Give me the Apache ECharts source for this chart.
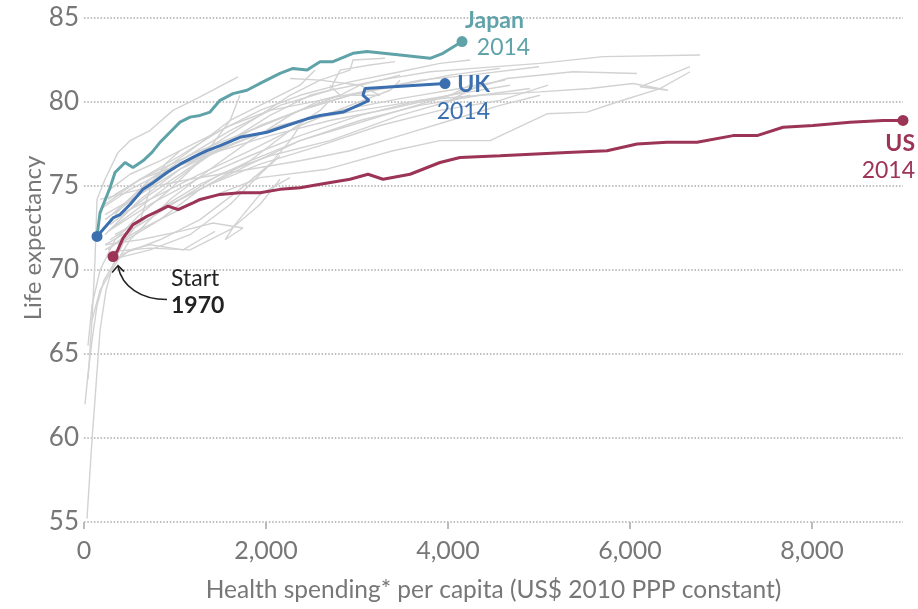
<!DOCTYPE html>
<html>
<head>
<meta charset="utf-8">
<script src="https://cdn.jsdelivr.net/npm/echarts@6/dist/echarts.min.js"></script>
<style>
  html, body { margin: 0; padding: 0; background: #fff; }
  #chart { width: 918px; height: 609px; }
</style>
</head>
<body>
<div id="chart"></div>
<script>
// [health spending per capita, life expectancy], 1970 -> 2014
const japan = [[143,72.0],[176,73.4],[286,74.9],[341,75.8],[451,76.4],[538,76.1],[648,76.5],[747,77.0],[835,77.6],[945,78.2],[1055,78.8],[1165,79.1],[1275,79.2],[1385,79.4],[1495,80.1],[1637,80.5],[1791,80.7],[1967,81.2],[2154,81.7],[2297,82.0],[2451,81.9],[2594,82.4],[2736,82.4],[2956,82.9],[3110,83.0],[3473,82.8],[3803,82.6],[3945,82.9],[4154,83.6]];
const uk = [[143,72.0],[176,72.2],[319,73.1],[396,73.3],[506,73.9],[615,74.6],[648,74.8],[758,75.2],[912,75.8],[1055,76.3],[1198,76.7],[1352,77.1],[1495,77.4],[1714,77.9],[2011,78.2],[2231,78.6],[2451,79.0],[2594,79.2],[2846,79.4],[3055,79.9],[3132,80.1],[3066,80.4],[3088,80.8],[3967,81.1]];
const us = [[319,70.8],[363,71.1],[429,71.9],[538,72.7],[692,73.2],[813,73.5],[923,73.8],[1033,73.6],[1198,74.0],[1275,74.2],[1495,74.5],[1714,74.6],[1934,74.6],[2154,74.8],[2374,74.9],[2594,75.1],[2923,75.4],[3121,75.7],[3286,75.4],[3583,75.7],[3912,76.4],[4132,76.7],[4572,76.8],[5308,77.0],[5748,77.1],[6077,77.5],[6407,77.6],[6737,77.6],[7133,78.0],[7396,78.0],[7682,78.5],[8012,78.6],[8418,78.8],[8781,78.9],[9000,78.9]];

// other OECD countries (grey)
const korea = [[44,63.5],[88,67.0],[121,70.6],[143,74.2],[231,75.4],[374,77.0],[506,77.7],[725,78.3],[978,79.5],[1275,80.3],[1692,81.5]];
const turkey = [[33,55.2],[88,59.9],[121,62.3],[176,66.4],[242,68.8],[330,70.5],[451,71.8],[615,72.9],[725,74.8],[890,76.3],[1055,77.1]];
const mexico = [[11,62.0],[44,63.8],[88,65.8],[143,67.9],[220,69.4],[341,70.5],[506,71.2],[725,71.5],[1088,71.2],[1275,71.8],[1440,72.3]];
const chile = [[44,65.5],[88,67.9],[176,70.0],[341,71.8],[615,73.3],[945,74.8],[1275,76.5],[1605,78.9],[1714,80.4]];
const estonia = [[231,71.5],[615,71.8],[1055,72.3],[1418,72.8],[1747,72.5],[1550,71.8],[1659,72.7],[1934,74.5],[2264,75.5]];
const hungary = [[308,71.1],[725,71.3],[1165,71.2],[1605,72.4],[1934,73.9],[2154,75.4]];
const poland = [[286,70.6],[725,71.2],[1165,72.1],[1605,73.9],[1934,75.7],[2154,76.8]];
const czech = [[396,70.9],[835,71.8],[1275,73.0],[1714,74.8],[2044,76.3],[2264,77.7],[2374,78.6]];
const slovenia = [[374,71.5],[835,73.0],[1275,74.8],[1824,76.5],[2264,78.3],[2594,79.5],[2703,80.1]];
const portugal = [[88,67.0],[176,68.8],[506,71.8],[945,74.2],[1385,76.0],[1824,77.7],[2264,79.2],[2594,80.1],[2813,80.4],[2703,81.0]];
const greece = [[231,72.1],[615,74.2],[1055,76.0],[1495,77.4],[1934,78.6],[2374,79.5],[2813,80.4],[3033,81.0],[2594,81.3],[2264,81.4]];
const israel = [[341,73.3],[725,75.4],[1165,77.1],[1605,78.9],[2044,80.1],[2374,81.0],[2540,81.9]];
const spain = [[286,72.4],[725,74.2],[1165,76.0],[1605,77.7],[2044,79.2],[2484,80.4],[2703,80.7],[2813,81.9],[3143,82.2],[3418,82.4]];
const italy = [[231,73.0],[615,74.5],[1055,76.3],[1495,77.7],[1934,79.2],[2264,80.4],[2594,81.3],[2923,81.9],[2956,82.5],[3308,82.6]];
const france = [[286,72.7],[725,74.5],[1275,76.5],[1824,78.3],[2374,79.5],[2923,80.4],[3473,81.0],[4022,81.6],[4572,82.0]];
const australia = [[231,73.9],[615,75.4],[1055,76.8],[1495,78.3],[1934,79.5],[2374,80.4],[2923,81.2],[3473,81.8],[3912,82.3],[4242,82.5]];
const newZealand = [[286,73.0],[725,74.2],[1275,75.7],[1824,77.1],[2374,78.6],[2923,79.8],[3363,80.7],[3473,81.3]];
const iceland = [[341,74.5],[725,75.7],[1275,77.1],[1824,78.3],[2374,79.5],[2923,80.4],[3253,80.4],[3033,81.0],[3473,81.6]];
const sweden = [[286,74.8],[506,75.7],[835,76.5],[1165,77.4],[1605,78.6],[2044,79.5],[2594,80.1],[3143,80.7],[3693,81.3],[4242,81.6],[5000,82.1]];
const switzerland = [[308,73.3],[615,74.8],[1055,76.5],[1605,78.3],[2154,79.8],[2703,80.7],[3253,81.3],[3803,81.8],[4275,82.0],[5011,82.3],[5704,82.7],[6770,82.8]];
const netherlands = [[176,73.6],[506,74.8],[945,76.0],[1495,77.1],[2044,78.0],[2703,78.9],[3363,79.6],[4022,80.4],[4649,81.4],[5374,81.8],[6077,81.7]];
const norway = [[264,74.2],[615,75.4],[1165,76.5],[1714,77.7],[2374,78.9],[3033,79.5],[3693,80.1],[4352,80.4],[5011,80.6],[5561,80.8],[6033,81.1],[6418,80.7],[6110,80.9],[6660,82.1]];
const luxembourg = [[231,71.2],[615,72.4],[1165,73.9],[1605,74.8],[1934,75.5],[2671,76.0],[3396,77.1],[3912,77.7],[4462,77.7],[5088,79.3],[5528,79.4],[5858,80.0],[6330,80.8],[6660,81.8]];
const germany = [[341,72.1],[835,73.6],[1385,75.1],[1934,76.3],[2594,77.4],[3253,78.6],[3912,79.5],[4572,80.1],[5100,81.0]];
const austria = [[286,71.8],[725,73.3],[1275,74.8],[1824,76.3],[2374,77.7],[3033,78.9],[3693,79.8],[4352,80.4],[4902,80.8]];
const belgium = [[264,72.3],[725,73.9],[1275,75.5],[1824,76.8],[2374,78.0],[3033,79.2],[3693,80.1],[4242,80.6],[4682,81.0]];
const denmark = [[176,74.2],[615,74.8],[1165,75.4],[1824,76.0],[2374,76.5],[2923,77.1],[3473,78.0],[4022,78.9],[4572,79.8],[5011,80.4]];
const finland = [[264,71.2],[725,73.3],[1275,75.1],[1824,76.5],[2374,77.7],[2923,78.6],[3473,79.5],[4022,80.4],[4242,81.0]];
const ireland = [[231,71.5],[615,72.7],[1055,74.2],[1495,75.7],[2044,76.8],[2703,77.7],[3473,79.2],[4242,80.4],[4022,80.1],[4352,81.0]];
const canada = [[231,73.3],[615,74.5],[1055,76.0],[1605,77.4],[2154,78.6],[2813,79.5],[3473,80.2],[4132,80.8],[4627,81.3]];

const greyCountries = [korea, turkey, mexico, chile, estonia, hungary, poland, czech, slovenia, portugal,
  greece, israel, spain, italy, france, australia, newZealand, iceland, sweden, switzerland,
  netherlands, norway, luxembourg, germany, austria, belgium, denmark, finland, ireland, canada];

const xTicks = [0, 2000, 4000, 6000, 8000];

const FONT = 'Lato';
const JAPAN = '#5fa3a9';
const UK = '#3b6fb0';
const US = '#9b3455';

const chart = echarts.init(document.getElementById('chart'));

function fmt(v) {
  return String(v).replace(/\B(?=(\d{3})+(?!\d))/g, ',');
}

function highlight(data, color) {
  return {
    type: 'line',
    data: data,
    showSymbol: false,
    silent: true,
    z: 5,
    lineStyle: { color: color, width: 3 },
    animation: false
  };
}

function dots(data, color, label, withStart) {
  const items = [];
  if (withStart) items.push({ value: data[0] });
  items.push({ value: data[data.length - 1], label: label });
  return {
    type: 'scatter',
    data: items,
    symbolSize: 11,
    z: 6,
    itemStyle: { color: color, opacity: 1 },
    animation: false
  };
}

const richOf = color => ({
  b: { fontFamily: FONT, fontSize: 23, fontWeight: 'bold', color: color, lineHeight: 27 },
  n: { fontFamily: FONT, fontSize: 23, color: color, lineHeight: 27 }
});

chart.setOption({
  backgroundColor: '#fff',
  animation: false,
  grid: { left: 84, right: 15, top: 18, bottom: 87 },
  xAxis: {
    type: 'value',
    min: 0,
    max: 9000,
    interval: 2000,
    name: 'Health spending* per capita (US$ 2010 PPP constant)',
    nameLocation: 'middle',
    nameGap: 56,
    nameTextStyle: { fontFamily: FONT, fontSize: 24.5, color: '#777' },
    axisLine: { show: false },
    axisTick: { show: true, customValues: xTicks, length: 7, lineStyle: { color: '#bbb', width: 2 } },
    axisLabel: { customValues: xTicks, formatter: fmt, margin: 16, fontFamily: FONT, fontSize: 25, color: '#777' },
    splitLine: { show: false }
  },
  yAxis: {
    type: 'value',
    min: 55,
    max: 85,
    interval: 5,
    axisLine: { show: false },
    axisTick: { show: false },
    axisLabel: { margin: 5, fontFamily: FONT, fontSize: 26, color: '#777' },
    splitLine: { lineStyle: { color: '#aaa', width: 1.5, type: [1.5, 1.8] } }
  },
  series: [
    ...greyCountries.map(d => ({
      type: 'line',
      data: d,
      showSymbol: false,
      silent: true,
      z: 2,
      lineStyle: { color: '#d2d2d2', width: 1.4 }
    })),
    highlight(us, US),
    highlight(uk, UK),
    highlight(japan, JAPAN),
    dots(japan, JAPAN, {
      show: true, position: [8.5, -28.5], align: 'left', verticalAlign: 'top',
      formatter: '{b|Japan}\n{n|  2014}', rich: richOf(JAPAN)
    }, false),
    dots(us, US, {
      show: true, position: [17.5, 15], align: 'right', verticalAlign: 'top',
      formatter: '{b|US}\n{n|2014}', rich: richOf(US)
    }, true),
    dots(uk, UK, {
      show: true, position: [50.5, -7], align: 'right', verticalAlign: 'top',
      formatter: '{b|UK}\n{n|2014}', rich: richOf(UK)
    }, true)
  ]
});

// y axis title and the "Start 1970" note, placed from the US start point
const p = chart.convertToPixel({ gridIndex: 0 }, us[0]);
chart.setOption({
  graphic: [
    {
      type: 'text', x: 33, y: 238, rotation: Math.PI / 2,
      style: { text: 'Life expectancy', fontFamily: FONT, fontSize: 24, fill: '#777', align: 'center', verticalAlign: 'middle' }
    },
    {
      type: 'text', x: p[0] + 58, y: p[1] + 36,
      style: {
        text: '{n|Start}\n{b|1970}', align: 'left', verticalAlign: 'middle',
        rich: {
          n: { fontFamily: FONT, fontSize: 23, fill: '#222', lineHeight: 27 },
          b: { fontFamily: FONT, fontSize: 23, fontWeight: 'bold', fill: '#222', lineHeight: 27 }
        }
      }
    },
    {
      type: 'bezierCurve',
      shape: { x1: p[0] + 54, y1: p[1] + 43, cpx1: p[0] + 28, cpy1: p[1] + 43, cpx2: p[0] + 9, cpy2: p[1] + 30, x2: p[0] + 5, y2: p[1] + 10 },
      style: { stroke: '#222', lineWidth: 1.6, fill: null }
    },
    {
      type: 'polyline',
      shape: { points: [[p[0] - 1, p[1] + 16], [p[0] + 5, p[1] + 9], [p[0] + 11, p[1] + 15]] },
      style: { stroke: '#222', lineWidth: 1.6, fill: null }
    }
  ]
});
</script>
</body>
</html>
